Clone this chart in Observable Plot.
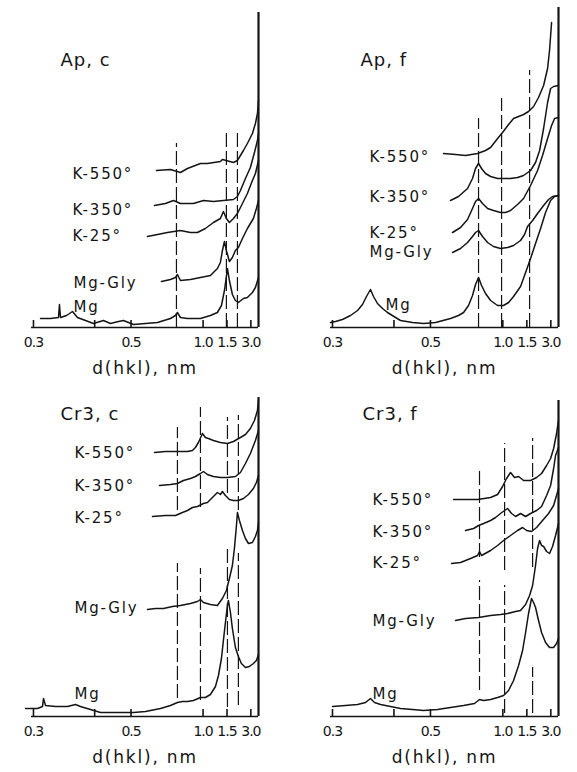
<!DOCTYPE html>
<html>
<head>
<meta charset="utf-8">
<script src="https://cdn.jsdelivr.net/npm/d3@7"></script>
<script src="https://cdn.jsdelivr.net/npm/@observablehq/plot@0.6"></script>
<style>
  html, body { margin: 0; padding: 0; background: #fff; }
  #grid { display: grid; grid-template-columns: 288px 289px; grid-template-rows: 385px 387px; width: 577px; height: 772px; }
  #grid svg { display: block; }
</style>
</head>
<body>
<div id="grid"><div id="p1"></div><div id="p2"></div><div id="p3"></div><div id="p4"></div></div>
<script>
// ---- axis: tick labels given as d(hkl) in nm, plotted on a 2θ (CuKα) scale ----
const LAMBDA = 0.15406;
const tickD = [0.3, 0.4, 0.5, 1.0, 1.5, 3.0];
const tickLabels = ["0.3", "", "0.5", "1.0", "1.5", "3.0"];
const xTitle = "d(hkl), nm";

// ---- Ap, c  (values: [2θ degrees, relative intensity]) ----
const apC_Mg = [[28.89,9],[27.66,9],[26.67,10],[26.55,23],[26.42,10],[25.68,12],[24.94,16],[24.33,10],[23.34,7],[22.36,4],[21.12,7],[20.26,4],[19.27,6],[18.66,7],[17.42,3],[15.94,4],[14.46,5],[12.86,9],[12.24,12],[12.0,15],[11.63,10],[10.76,9],[9.16,9],[7.93,12],[7.07,15],[6.57,22],[6.20,37],[5.96,51],[5.83,59],[5.59,47],[5.22,33],[4.85,27],[4.48,25],[3.86,29],[3.37,30],[2.75,35],[2.38,40],[2.0,50]];
const apC_MgGly = [[13.97,46],[12.86,48],[12.24,50],[12.0,53],[11.63,47],[10.39,48],[9.16,50],[7.93,52],[7.07,59],[6.70,65],[6.45,77],[6.20,86],[5.96,77],[5.59,66],[5.22,70],[4.85,77],[4.48,80],[3.98,89],[3.37,99],[2.63,109],[2.26,119],[2.0,127]];
const apC_K25 = [[15.70,91],[14.46,93],[13.23,95],[11.63,97],[10.39,95],[9.53,95],[8.55,99],[7.56,105],[6.70,109],[6.33,116],[5.96,109],[5.59,105],[5.09,109],[4.60,114],[3.98,124],[3.37,134],[2.75,147],[2.38,154],[2.0,167]];
const apC_K350 = [[14.83,122],[13.48,124],[12.49,127],[11.63,124],[10.02,124],[8.79,127],[7.56,126],[6.33,127],[5.09,128],[4.60,131],[4.23,137],[3.61,149],[3.0,160],[2.50,175],[2.13,187],[2.0,194]];
const apC_K550 = [[14.59,157],[12.86,158],[11.63,155],[10.76,159],[9.16,164],[8.30,164],[6.70,166],[6.45,168],[5.09,165],[4.60,167],[3.86,177],[3.37,184],[2.75,194],[2.38,204],[2.13,214],[2.0,227]];
const apC_refs = [{t:12.12,lo:0,hi:184},{t:5.96,lo:0,hi:194},{t:4.60,lo:0,hi:196}];
const apC_edge = {t:2, top:315};
const apC_title = {label:"Ap, c", t:26.42, i:267};
const apC_labels = [{label:"K-550°",t:24.94,i:153},{label:"K-350°",t:24.94,i:117},{label:"K-25°",t:24.94,i:91},{label:"Mg-Gly",t:24.82,i:44},{label:"Mg",t:24.82,i:20}];

// ---- Ap, f ----
const apF_Mg = [[30.0,5],[29.39,6],[28.53,8],[27.54,12],[26.68,17],[26.07,23],[25.58,31],[25.09,38],[24.72,31],[24.23,24],[23.61,19],[23.0,15],[22.01,10],[21.40,7],[19.93,5],[18.57,4],[17.10,5],[15.26,9],[14.28,12],[13.66,15],[13.05,22],[12.56,32],[12.19,43],[11.82,50],[11.45,42],[10.96,34],[10.34,27],[9.48,22],[8.75,22],[8.13,25],[7.52,31],[6.66,41],[6.04,55],[5.43,69],[4.82,84],[4.20,99],[3.59,115],[2.97,127],[2.48,131],[2.0,132]];
const apF_MgGly = [[15.01,75],[14.03,79],[13.17,85],[12.56,91],[12.19,95],[11.82,97],[11.33,91],[10.71,85],[9.98,81],[9.12,79],[8.26,80],[7.52,82],[6.66,87],[6.17,93],[5.80,101],[5.18,107],[4.57,114],[3.83,122],[3.22,128],[2.73,131],[2.0,132]];
const apF_K25 = [[15.01,95],[14.03,100],[13.17,108],[12.56,119],[12.19,126],[11.82,129],[11.33,124],[10.71,119],[9.98,117],[9.12,115],[8.50,115],[7.89,117],[7.03,123],[6.29,129],[5.43,142],[4.57,157],[3.96,172],[3.34,189],[2.85,202],[2.48,209],[2.0,210]];
const apF_K350 = [[15.26,127],[14.28,131],[13.17,139],[12.56,149],[12.19,159],[11.82,164],[11.45,159],[10.96,154],[10.34,151],[9.48,149],[8.50,149],[7.89,149],[7.03,150],[6.29,152],[5.43,157],[4.82,165],[4.32,177],[3.83,199],[3.34,225],[2.97,239],[2.60,241],[2.0,242]];
const apF_K550 = [[16.12,174],[14.64,173],[13.42,172],[11.94,174],[10.96,177],[10.34,180],[9.48,189],[8.87,195],[8.13,203],[7.52,209],[6.90,211],[6.29,213],[5.68,216],[5.06,221],[4.45,230],[3.83,242],[3.34,259],[3.10,277],[2.85,305]];
const apF_refs = [{t:11.82,lo:0,hi:209},{t:8.99,lo:0,hi:229},{t:5.55,lo:0,hi:257}];
const apF_edge = {t:2, top:320};
const apF_title = {label:"Ap, f", t:26.31, i:267};
const apF_labels = [{label:"K-550°",t:25.21,i:170},{label:"K-350°",t:25.21,i:130},{label:"K-25°",t:25.21,i:94},{label:"Mg-Gly",t:25.21,i:75},{label:"Mg",t:23.24,i:22}];

// ---- Cr3, c ----
const cr3C_Mg = [[30.74,8],[29.26,8],[28.64,10],[28.52,18],[28.27,11],[27.04,10],[25.56,10],[24.57,12],[23.96,10],[22.73,7],[21.49,4],[19.64,4],[17.42,4],[15.94,5],[14.09,8],[12.86,11],[12.0,14],[11.38,15],[10.76,15],[10.02,16],[9.16,19],[8.55,19],[7.93,22],[7.31,30],[6.94,41],[6.57,58],[6.33,76],[6.08,94],[5.83,111],[5.71,116],[5.46,104],[5.22,88],[4.85,69],[4.48,60],[4.11,53],[3.61,49],[3.12,50],[2.63,53],[2.26,56],[2.0,62]];
const cr3C_MgGly = [[15.70,107],[14.71,108],[13.72,108],[12.61,110],[11.63,111],[10.39,113],[9.53,115],[9.16,117],[8.79,114],[7.93,112],[7.07,111],[6.45,118],[5.96,126],[5.59,138],[5.22,151],[4.97,168],[4.72,191],[4.60,204],[4.35,196],[3.98,186],[3.61,178],[3.24,173],[2.75,174],[2.38,180],[2.13,186],[2.0,194]];
const cr3C_K25 = [[15.08,200],[13.48,201],[12.24,201],[11.38,204],[10.76,206],[10.15,209],[9.53,210],[8.79,213],[8.30,214],[7.68,219],[7.07,224],[6.70,222],[6.45,225],[6.08,221],[5.59,217],[5.09,216],[4.48,216],[3.86,218],[3.24,222],[2.63,228],[2.26,234],[2.0,241]];
const cr3C_K350 = [[14.22,231],[12.86,232],[12.0,233],[11.26,236],[10.39,238],[9.78,240],[9.16,243],[8.79,245],[8.30,242],[7.56,240],[6.70,239],[5.83,239],[4.85,240],[4.23,244],[3.61,253],[3.0,263],[2.38,276],[2.0,286]];
const cr3C_K550 = [[14.83,264],[13.48,265],[12.0,265],[10.76,265],[10.15,266],[9.78,269],[9.41,274],[8.91,283],[8.55,279],[8.18,278],[7.56,276],[6.70,274],[5.83,273],[5.09,275],[4.23,279],[3.61,282],[3.0,288],[2.50,296],[2.13,306],[2.0,316]];
const cr3C_refs = [{t:12.0,lo:206,hi:289},{t:9.16,lo:209,hi:309},{t:5.83,lo:223,hi:299},{t:4.48,lo:206,hi:301},{t:12.0,lo:18,hi:153},{t:9.16,lo:16,hi:148},{t:5.83,lo:9,hi:169},{t:4.48,lo:11,hi:163}];
const cr3C_edge = {t:2, top:319};
const cr3C_title = {label:"Cr3, c", t:26.42, i:302};
const cr3C_labels = [{label:"K-550°",t:24.70,i:263},{label:"K-350°",t:24.70,i:230},{label:"K-25°",t:24.70,i:198},{label:"Mg-Gly",t:24.70,i:108},{label:"Mg",t:24.70,i:22}];

// ---- Cr3, f ----
const cr3F_Mg = [[29.75,10],[28.16,11],[26.68,12],[25.70,14],[25.09,18],[24.59,14],[23.86,12],[22.63,10],[21.40,8],[19.93,7],[18.57,6],[16.86,7],[15.26,9],[13.66,11],[12.31,13],[11.70,17],[11.20,16],[10.34,17],[9.48,19],[8.75,21],[8.13,26],[7.52,36],[6.90,51],[6.41,66],[6.04,84],[5.68,103],[5.31,118],[5.06,114],[4.82,109],[4.45,96],[4.08,84],[3.59,74],[3.10,69],[2.60,69],[2.24,73],[2.0,78]];
const cr3F_MgGly = [[14.64,96],[13.42,98],[11.82,99],[10.34,101],[9.12,102],[8.26,103],[7.27,105],[6.66,106],[6.04,112],[5.55,121],[5.18,131],[4.82,151],[4.57,168],[4.32,176],[4.08,171],[3.83,170],[3.46,165],[3.10,163],[2.73,170],[2.36,181],[2.0,193]];
const cr3F_K25 = [[15.14,153],[14.03,154],[12.80,158],[11.94,161],[11.70,165],[11.45,161],[10.34,166],[9.48,171],[8.75,176],[7.89,181],[7.03,186],[6.41,189],[5.92,186],[5.31,185],[4.69,189],[3.96,196],[3.22,203],[2.60,211],[2.24,221],[2.0,228]];
const cr3F_K350 = [[13.42,186],[12.43,188],[11.82,191],[11.20,193],[10.34,196],[9.73,199],[9.12,203],[8.62,206],[8.26,208],[7.76,203],[7.27,200],[6.66,203],[6.04,200],[5.43,203],[4.69,206],[4.08,210],[3.46,221],[2.97,231],[2.60,248],[2.36,261],[2.0,269]];
const cr3F_K550 = [[14.89,217],[13.42,217],[11.94,217],[10.34,219],[9.48,222],[8.87,230],[8.38,238],[7.89,244],[7.40,239],[6.90,240],[6.29,236],[5.43,236],[4.69,239],[4.08,243],[3.46,251],[2.97,258],[2.60,268],[2.24,283],[2.0,296]];
const cr3F_refs = [{t:11.70,lo:159,hi:249},{t:8.62,lo:146,hi:273},{t:5.18,lo:149,hi:278},{t:11.70,lo:26,hi:136},{t:8.62,lo:3,hi:131},{t:5.18,lo:3,hi:49}];
const cr3F_edge = {t:2, top:316};
const cr3F_title = {label:"Cr3, f", t:26.07, i:302};
const cr3F_labels = [{label:"K-550°",t:24.84,i:216},{label:"K-350°",t:24.84,i:184},{label:"K-25°",t:24.84,i:153},{label:"Mg-Gly",t:24.84,i:95},{label:"Mg",t:24.84,i:22}];

// ---- drawing ----
const ink = "#141414";
const twoTheta = d => 2 * Math.asin(LAMBDA / (2 * d)) * 180 / Math.PI;
const tickRows = tickD.map((d, i) => ({t: twoTheta(d), label: tickLabels[i]}));
const titleSet = new Set([apC_title, apF_title, cr3C_title, cr3F_title].map(d => d.label));
const tickSet = new Set(tickLabels);

function panel(o) {
  const svg = Plot.plot({
    width: o.width, height: o.height,
    marginLeft: o.ml, marginRight: o.mr, marginTop: 0, marginBottom: o.mb,
    x: {domain: [30, 2], axis: null},
    y: {domain: [0, o.ymax], axis: null},
    style: {fontFamily: "DejaVu Sans", background: "#fff", color: ink, overflow: "visible"},
    marks: [
      Plot.ruleY([0], {stroke: ink, strokeWidth: 1.7}),
      Plot.ruleX(tickRows, {x: "t", y1: 0, y2: 7, stroke: ink, strokeWidth: 1.6}),
      Plot.text(tickRows, {x: "t", y: 0, text: "label", dy: 15, fontSize: 14, fill: ink}),
      Plot.text([xTitle], {frameAnchor: "bottom", dy: 46, fontSize: 17, fill: ink}),
      Plot.ruleX(o.refs, {x: "t", y1: "lo", y2: "hi", stroke: ink, strokeWidth: 1.2, strokeDasharray: "14,4"}),
      ...o.curves.map(c => Plot.line(c, {x: d => d[0], y: d => d[1], stroke: ink, strokeWidth: 1.5})),
      Plot.ruleX([o.edge], {x: "t", y1: 0, y2: "top", stroke: ink, strokeWidth: 2.2}),
      Plot.text(o.labels, {x: "t", y: "i", text: "label", textAnchor: "start", fontSize: 15, fill: ink}),
      Plot.text([o.title], {x: "t", y: "i", text: "label", textAnchor: "start", fontSize: 18, fill: ink})
    ]
  });
  d3.select(svg).selectAll("text").each(function () {
    const s = this.textContent;
    const ls = tickSet.has(s) ? "-1px" : titleSet.has(s) ? "1px" : "1.8px";
    this.style.letterSpacing = ls;
  });
  return svg;
}

const rowTop = {height: 385, mb: 58, ymax: 327};
const rowBot = {height: 387, mb: 56, ymax: 331};
const colLeft = {width: 288, ml: 31, mr: 30};
const colRight = {width: 289, ml: 42, mr: 19};

document.getElementById("p1").appendChild(panel({...rowTop, ...colLeft,
  curves: [apC_Mg, apC_MgGly, apC_K25, apC_K350, apC_K550], refs: apC_refs, edge: apC_edge, title: apC_title, labels: apC_labels}));
document.getElementById("p2").appendChild(panel({...rowTop, ...colRight,
  curves: [apF_Mg, apF_MgGly, apF_K25, apF_K350, apF_K550], refs: apF_refs, edge: apF_edge, title: apF_title, labels: apF_labels}));
document.getElementById("p3").appendChild(panel({...rowBot, ...colLeft,
  curves: [cr3C_Mg, cr3C_MgGly, cr3C_K25, cr3C_K350, cr3C_K550], refs: cr3C_refs, edge: cr3C_edge, title: cr3C_title, labels: cr3C_labels}));
document.getElementById("p4").appendChild(panel({...rowBot, ...colRight,
  curves: [cr3F_Mg, cr3F_MgGly, cr3F_K25, cr3F_K350, cr3F_K550], refs: cr3F_refs, edge: cr3F_edge, title: cr3F_title, labels: cr3F_labels}));
</script>
</body>
</html>
